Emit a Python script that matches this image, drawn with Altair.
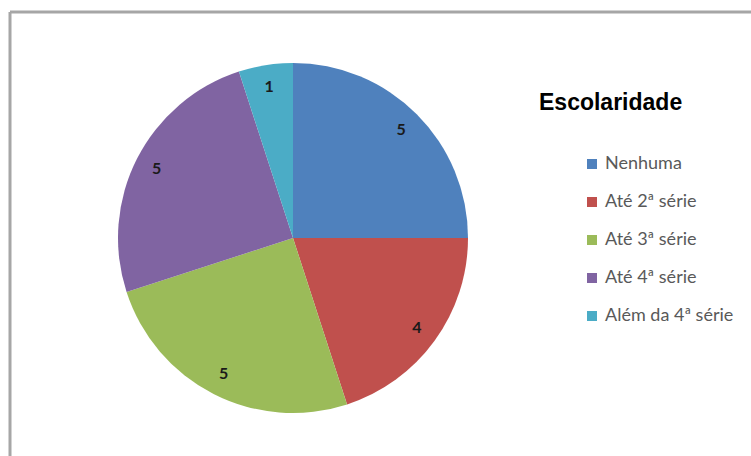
import altair as alt
import pandas as pd

categories = ["Nenhuma", "Até 2ª série", "Até 3ª série", "Até 4ª série", "Além da 4ª série"]
values = [5, 4, 5, 5, 1]
colors = ["#4F81BD", "#C0504D", "#9BBB59", "#8064A2", "#4BACC6"]
title_text = "Escolaridade"

df = pd.DataFrame({"cat": categories, "val": values, "ord": list(range(len(categories)))})

W, H = 741, 444
CX, CY, R = 283, 226, 175

base = alt.Chart(df).encode(
    theta=alt.Theta("val:Q", stack=True),
    order=alt.Order("ord:Q"),
    x=alt.value(CX),
    y=alt.value(CY),
)

pie = base.mark_arc(radius=R).encode(
    color=alt.Color(
        "cat:N",
        sort=categories,
        scale=alt.Scale(domain=categories, range=colors),
        legend=alt.Legend(
            title=None,
            orient="none",
            legendX=573,
            legendY=143,
            symbolType="square",
            symbolSize=100,
            symbolStrokeWidth=0,
            labelFont="Lato",
            labelFontSize=18,
            labelColor="#595959",
            labelOffset=4,
            rowPadding=20,
            padding=0,
        ),
    )
)

labels = base.mark_text(
    radius=153, font="Lato", fontWeight="bold", fontSize=16, color="#1a1a1a"
).encode(text="val:Q")

title = alt.Chart(pd.DataFrame({"t": [title_text]})).mark_text(
    align="left", baseline="alphabetic", font="Liberation Sans", fontWeight="bold",
    fontSize=23, color="#000000"
).encode(text="t:N", x=alt.value(529), y=alt.value(98))

frame_left = alt.Chart(pd.DataFrame({"a": [0]})).mark_rule(color="#A6A6A6", strokeWidth=3).encode(
    x=alt.value(0), y=alt.value(0), y2=alt.value(H)
)
frame_top = alt.Chart(pd.DataFrame({"a": [0]})).mark_rule(color="#A6A6A6", strokeWidth=3).encode(
    x=alt.value(0), x2=alt.value(W), y=alt.value(0)
)

chart = alt.layer(frame_left, frame_top, pie, labels, title).properties(
    width=W, height=H,
    autosize=alt.AutoSizeParams(type="none"),
    padding={"left": 10, "top": 12, "right": 0, "bottom": 0},
    background="white",
).configure_view(stroke=None)

chart.save("out.html", embed_options={"renderer": "svg", "actions": False})
